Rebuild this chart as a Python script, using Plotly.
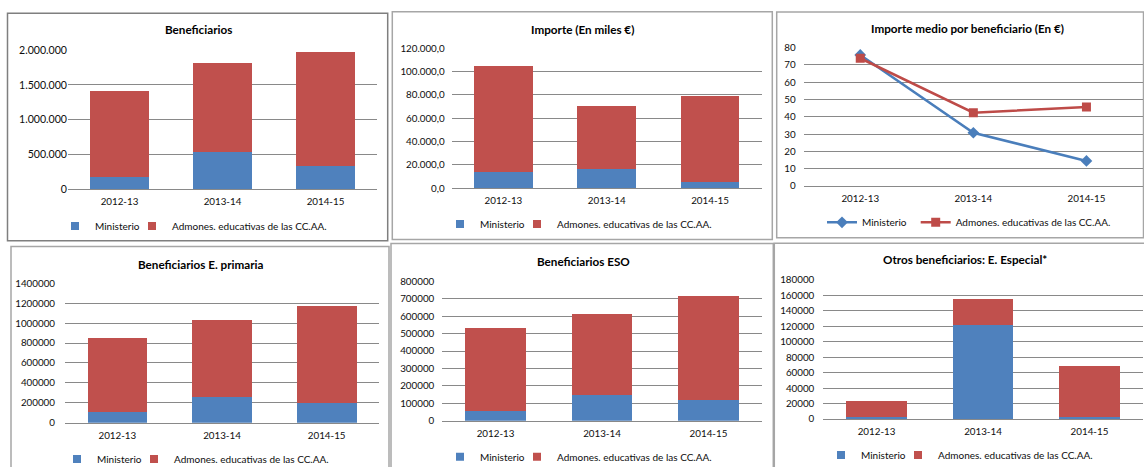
import plotly.graph_objects as go

W, H = 1144, 467

# ---- data -------------------------------------------------------------
cursos = ["2012-13", "2013-14", "2014-15"]

benef_ministerio = [181000, 531000, 335000]
benef_ccaa = [1230000, 1278000, 1632000]

importe_ministerio = [14000.0, 16800.0, 5100.0]
importe_ccaa = [90600.0, 54000.0, 74300.0]

medio_ministerio = [75.8, 30.8, 14.5]
medio_ccaa = [73.9, 42.4, 45.7]

primaria_ministerio = [110500, 261000, 201000]
primaria_ccaa = [740500, 768000, 972000]

eso_ministerio = [57400, 146000, 117000]
eso_ccaa = [473200, 468500, 601000]

especial_ministerio = [2200, 121300, 2500]
especial_ccaa = [20700, 34100, 66500]

series_names = ["Ministerio", "Admones. educativas de las CC.AA."]
titles = [
    "Beneficiarios",
    "Importe (En miles €)",
    "Importe medio por beneficiario (En €)",
    "Beneficiarios E. primaria",
    "Beneficiarios ESO",
    "Otros beneficiarios: E. Especial*",
]

BLUE = "#4F81BD"
RED = "#C0504D"
LINE_BLUE = "#4A7EBB"
LINE_RED = "#BE4B48"
GRID = "#898989"
FONT = "Lato"
TEXT = "#0d0d0d"
TICK_SIZE = 9.8
LEGEND_SIZE = 10
TITLE_SIZE = 11.7


def fx(x):
    return x / W


def fy(y):
    return 1 - y / H


fig = go.Figure()

# panel layout in pixels: plot area (x0, x1, ytop, ybottom), y range, dtick,
# tick format, y label font size, y label standoff
panels = [
    dict(area=(68, 377, 50, 189.3), rng=2000000, dtick=500000, fmt=",d", ysize=10.6, stand=0),
    dict(area=(451.7, 761.7, 48.3, 188.3), rng=120000, dtick=20000, fmt=",.1f", ysize=TICK_SIZE, stand=6),
    dict(area=(803.7, 1143, 47.7, 186), rng=80, dtick=10, fmt="d", ysize=TICK_SIZE, stand=7),
    dict(area=(65, 379, 283.3, 422.7), rng=1400000, dtick=200000, fmt="d", ysize=TICK_SIZE, stand=9),
    dict(area=(442.3, 761.7, 281.3, 420.7), rng=800000, dtick=100000, fmt="d", ysize=TICK_SIZE, stand=7),
    dict(area=(823.3, 1142.7, 280, 419), rng=180000, dtick=20000, fmt="d", ysize=TICK_SIZE, stand=8),
]

bar_data = {
    1: (benef_ministerio, benef_ccaa),
    2: (importe_ministerio, importe_ccaa),
    4: (primaria_ministerio, primaria_ccaa),
    5: (eso_ministerio, eso_ccaa),
    6: (especial_ministerio, especial_ccaa),
}

# one legend per series entry: (left x of each entry, vertical centre) in pixels
legend_pos = {
    1: ((55, 132), 226),
    2: ((440, 517), 224),
    3: ((822, 915.7), 222.3),
    4: ((57, 134), 459),
    5: ((440, 517), 456.7),
    6: ((821, 898), 455),
}

for i, p in enumerate(panels, start=1):
    sfx = "" if i == 1 else str(i)
    x0, x1, yt, yb = p["area"]
    (lx_a, lx_b), ly = legend_pos[i]
    legs = []
    for k, lx in enumerate((lx_a, lx_b)):
        n = 2 * (i - 1) + k + 1
        name = "legend" if n == 1 else f"legend{n}"
        legs.append(name)
        fig.layout[name] = dict(
            orientation="h", xref="container", yref="container",
            x=fx(lx), y=fy(ly), xanchor="left", yanchor="middle",
            font=dict(family=FONT, size=LEGEND_SIZE, color=TEXT),
            bgcolor="rgba(0,0,0,0)", borderwidth=0,
            traceorder="normal", itemclick=False,
        )

    if i in bar_data:
        mins, ccaa = bar_data[i]
        for vals, name, col, leg in zip((mins, ccaa), series_names, (BLUE, RED), legs):
            fig.add_trace(go.Bar(
                x=cursos, y=vals, name=name, marker_color=col,
                marker_line_width=0,
                xaxis="x" + sfx, yaxis="y" + sfx, showlegend=False,
            ))
            # legend entry with a small square swatch
            fig.add_trace(go.Scatter(
                x=[None], y=[None], mode="markers", name=name,
                marker=dict(symbol="square", size=8, color=col),
                xaxis="x" + sfx, yaxis="y" + sfx, legend=leg,
            ))
    else:
        fig.add_trace(go.Scatter(
            x=cursos, y=medio_ministerio, name=series_names[0],
            mode="lines+markers",
            line=dict(color=LINE_BLUE, width=2.5),
            marker=dict(symbol="diamond", size=9, color=LINE_BLUE),
            xaxis="x" + sfx, yaxis="y" + sfx, legend=legs[0],
        ))
        fig.add_trace(go.Scatter(
            x=cursos, y=medio_ccaa, name=series_names[1],
            mode="lines+markers",
            line=dict(color=LINE_RED, width=2.5),
            marker=dict(symbol="square", size=9, color=LINE_RED),
            xaxis="x" + sfx, yaxis="y" + sfx, legend=legs[1],
        ))

    fig.layout["xaxis" + sfx] = dict(
        domain=[fx(x0), fx(x1)], anchor="y" + sfx,
        type="category", range=[-0.5, 2.5],
        showgrid=False, showline=True, linecolor=GRID, linewidth=1.3,
        ticks="", ticklabelstandoff=3,
        tickfont=dict(family=FONT, size=TICK_SIZE, color=TEXT),
        zeroline=False, fixedrange=True, automargin=False,
    )
    fig.layout["yaxis" + sfx] = dict(
        domain=[fy(yb), fy(yt)], anchor="x" + sfx,
        range=[0, p["rng"]], dtick=p["dtick"], tick0=0,
        tickformat=p["fmt"], showgrid=True, gridcolor=GRID, gridwidth=1.3,
        showline=False, zeroline=False, ticks="",
        ticklabelstandoff=p["stand"],
        tickfont=dict(family=FONT, size=p["ysize"], color=TEXT),
        fixedrange=True, automargin=False,
    )

# panel titles
title_pos = [(198.5, 29), (582.5, 29), (967, 28), (200.8, 264), (583, 260.7), (964.7, 259)]
for t, (tx, ty) in zip(titles, title_pos):
    fig.add_annotation(
        text=f"<b>{t}</b>", x=fx(tx), y=fy(ty), xref="paper", yref="paper",
        showarrow=False, xanchor="center", yanchor="middle",
        font=dict(family=FONT, size=TITLE_SIZE, color="#000000"),
    )

# chart frames
frames = [
    (7.5, 13.3, 387.7, 240.7, "#7F7F7F"),
    (392.3, 11.7, 772.3, 239.5, "#A6A6A6"),
    (776.7, 12, 1143.5, 237.8, "#A6A6A6"),
    (11, 246.5, 389, 470, "#A6A6A6"),
    (391, 243.5, 773.3, 470, "#A6A6A6"),
    (774.3, 243.3, 1146, 470, "#A6A6A6"),
]
for x0, y0, x1, y1, col in frames:
    fig.add_shape(
        type="rect", xref="paper", yref="paper",
        x0=fx(x0), x1=fx(x1), y0=fy(y1), y1=fy(y0),
        line=dict(color=col, width=1.5), fillcolor="rgba(0,0,0,0)", layer="below",
    )

fig.update_layout(
    width=W, height=H, margin=dict(l=0, r=0, t=0, b=0, autoexpand=False),
    paper_bgcolor="white", plot_bgcolor="white",
    barmode="stack", bargap=0.43,
    separators=",.",
    font=dict(family=FONT, color=TEXT),
    showlegend=True,
)

fig.write_html("out.html", config={"displayModeBar": False})
